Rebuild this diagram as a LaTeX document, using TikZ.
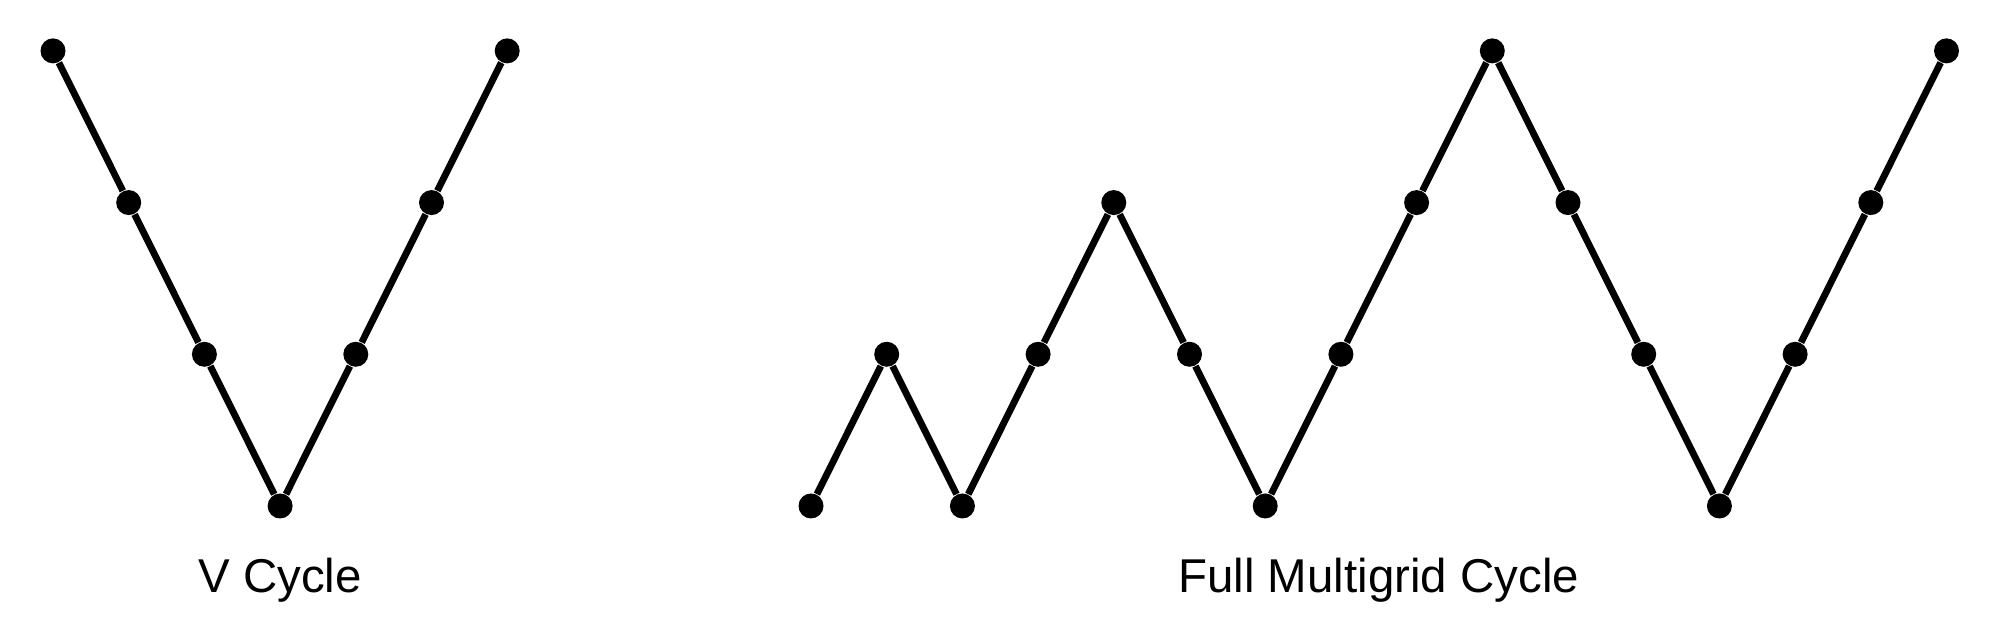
\documentclass[tikz,border=0pt]{standalone}
\usepackage{fontspec}
\setmainfont{Liberation Sans}
\usepackage{tikz}

\begin{document}
\begin{tikzpicture}
    % Define parameters
    \def\dx{0.757}
    \def\dy{1.517}
    \def\dotsize{2.5mm}
    \tikzset{dot/.style={circle,fill=black,inner sep=0pt,minimum size=\dotsize},
             link/.style={line width=0.68mm},
             cyclename/.style={anchor=base,font=\fontsize{13.5}{16}\selectfont}}
\useasboundingbox (0,0) rectangle (20,6.22);

% V cycle
\begin{scope}[shift={(0.53,1.16)}]
    \node[dot] (v0) at (0,3*\dy) {};
    \node[dot] (v1) at (\dx,2*\dy) {};
    \node[dot] (v2) at (2*\dx,\dy) {};
    \node[dot] (v3) at (3*\dx,0) {};
    \node[dot] (v4) at (4*\dx,\dy) {};
    \node[dot] (v5) at (5*\dx,2*\dy) {};
    \node[dot] (v6) at (6*\dx,3*\dy) {};

    \draw[link] (v0) -- (v1) -- (v2) -- (v3) -- (v4) -- (v5) -- (v6);

    \node[cyclename] (vname) at (3*\dx,-0.87) {V Cycle};
\end{scope}

% Full multigrid cycle
\begin{scope}[shift={(8.11,1.16)}]
    \node[dot] (f0) at (0,0) {};
    \node[dot] (f1) at (\dx,\dy) {};
    \node[dot] (f2) at (2*\dx,0) {};
    \node[dot] (f3) at (3*\dx,\dy) {};
    \node[dot] (f4) at (4*\dx,2*\dy) {};
    \node[dot] (f5) at (5*\dx,\dy) {};
    \node[dot] (f6) at (6*\dx,0) {};
    \node[dot] (f7) at (7*\dx,\dy) {};
    \node[dot] (f8) at (8*\dx,2*\dy) {};
    \node[dot] (f9) at (9*\dx,3*\dy) {};
    \node[dot] (f10) at (10*\dx,2*\dy) {};
    \node[dot] (f11) at (11*\dx,\dy) {};
    \node[dot] (f12) at (12*\dx,0) {};
    \node[dot] (f13) at (13*\dx,\dy) {};
    \node[dot] (f14) at (14*\dx,2*\dy) {};
    \node[dot] (f15) at (15*\dx,3*\dy) {};

    \draw[link] (f0) -- (f1) -- (f2) -- (f3) -- (f4) -- (f5) -- (f6) -- (f7)
        -- (f8) -- (f9) -- (f10) -- (f11) -- (f12) -- (f13) -- (f14) -- (f15);

    \node[cyclename] (fname) at (7.5*\dx,-0.87) {Full Multigrid Cycle};
\end{scope}

\end{tikzpicture}
\end{document}
